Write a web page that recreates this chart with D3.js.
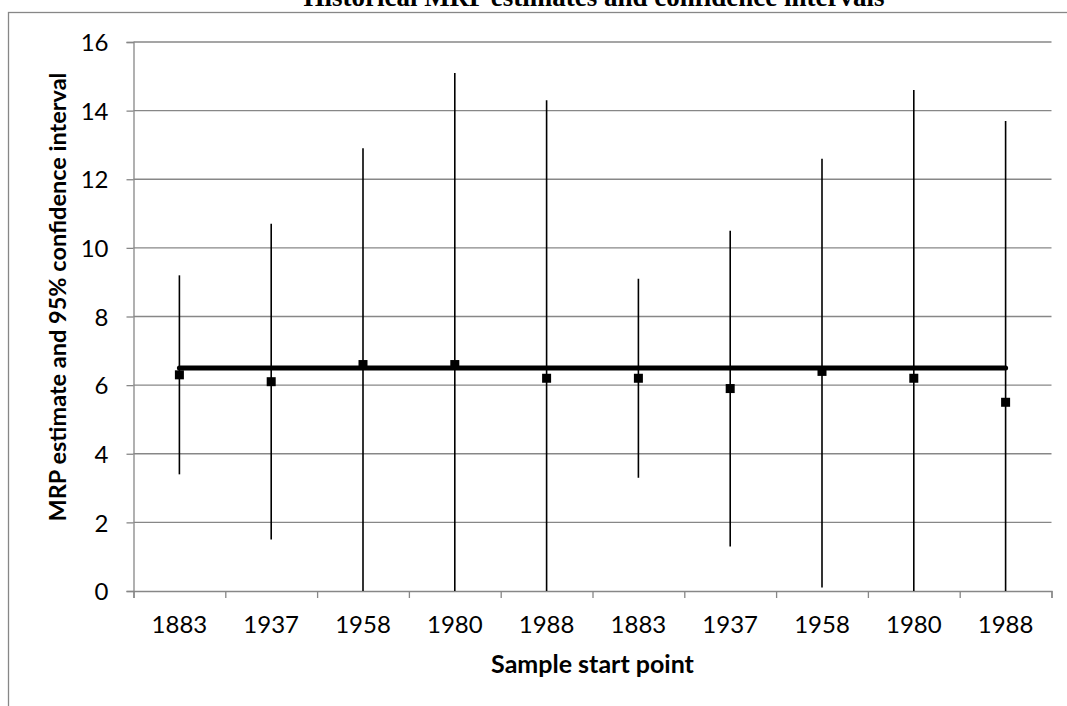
<!DOCTYPE html>
<html>
<head>
<meta charset="utf-8">
<script src="https://cdn.jsdelivr.net/npm/d3@7"></script>
<style>
  body { margin: 0; background: #fff; }
  svg { display: block; }
</style>
</head>
<body>
<script>
'use strict';
(function() {

  // sample start points (labels repeat, so bars are keyed by index)
  const startPoints = ["1883", "1937", "1958", "1980", "1988", "1883", "1937", "1958", "1980", "1988"];
  // MRP point estimates
  const estimates = [6.3, 6.1, 6.6, 6.6, 6.2, 6.2, 5.9, 6.4, 6.2, 5.5];
  // 95% confidence interval bounds (lower clipped at axis 0 in the picture)
  const upperBound = [9.2, 10.7, 12.9, 15.1, 14.3, 9.1, 10.5, 12.6, 14.6, 13.7];
  const lowerBound = [3.4, 1.5, 0, 0, 0, 3.3, 1.3, 0.1, 0, 0];
  // long run average line
  const longRunMRP = 6.5;
  const yTicks = [0, 2, 4, 6, 8, 10, 12, 14, 16];

  const width = 1067, height = 706;
  const plot = { left: 133.5, right: 1051.5, top: 42, bottom: 591 };
  const gridColor = "#878787";
  const sans = 'Lato, "Open Sans", sans-serif';

  const svg = d3.select('body')
    .append('svg')
    .attr('width', width)
    .attr('height', height);

  // chart frame (only top and left edges are inside the picture)
  svg.append('rect')
    .attr('x', 8.5)
    .attr('y', 12.5)
    .attr('width', 1100)
    .attr('height', 800)
    .attr('fill', 'none')
    .attr('stroke', gridColor)
    .attr('stroke-width', 1.3);

  // title, clipped by the top of the picture as in the original
  svg.append('text')
    .attr('x', 594)
    .attr('y', 5.5)
    .attr('text-anchor', 'middle')
    .style('font-family', '"Liberation Serif", "Times New Roman", serif')
    .style('font-weight', 'bold')
    .style('font-size', '27px')
    .text("Historical MRP estimates and confidence intervals");

  const idx = d3.range(startPoints.length);

  const xBand = d3.scaleBand()
    .domain(idx)
    .range([plot.left, plot.right]);

  const xEdge = d3.scaleLinear()
    .domain([0, startPoints.length])
    .range([plot.left, plot.right]);

  const yScale = d3.scaleLinear()
    .domain([0, 16])
    .range([plot.bottom, plot.top]);

  const cx = (i) => xBand(i) + xBand.bandwidth() / 2;

  // horizontal gridlines
  svg.append('g')
    .selectAll('line')
    .data(yTicks.filter((d) => d > 0))
    .enter()
    .append('line')
      .attr('x1', plot.left)
      .attr('x2', plot.right)
      .attr('y1', (d) => yScale(d))
      .attr('y2', (d) => yScale(d))
      .attr('stroke', gridColor)
      .attr('stroke-width', 1.3);

  // y axis
  const yAxis = svg.append('g')
    .attr('transform', `translate(${plot.left}, 0)`)
    .call(d3.axisLeft(yScale).tickValues(yTicks).tickSize(7).tickPadding(18));
  yAxis.select('.domain').attr('stroke', gridColor).attr('stroke-width', 1.3);
  yAxis.selectAll('.tick line').attr('stroke', gridColor).attr('stroke-width', 1.3);
  yAxis.selectAll('.tick text')
    .attr('dy', '0.36em')
    .style('font-family', sans)
    .style('font-size', '24px')
    .attr('fill', '#000');

  // x axis: tick marks on category boundaries
  const xAxis = svg.append('g')
    .attr('transform', `translate(0, ${plot.bottom})`)
    .call(d3.axisBottom(xEdge).tickValues(d3.range(startPoints.length + 1)).tickSize(7).tickFormat(''));
  xAxis.select('.domain').attr('stroke', gridColor).attr('stroke-width', 1.3);
  xAxis.selectAll('.tick line').attr('stroke', gridColor).attr('stroke-width', 1.3);

  // x axis labels at category centres
  const xLabels = svg.append('g')
    .attr('transform', `translate(0, ${plot.bottom})`)
    .call(d3.axisBottom(xBand).tickSize(0).tickPadding(25).tickFormat((i) => startPoints[i]));
  xLabels.select('.domain').remove();
  xLabels.selectAll('.tick text')
    .style('font-family', sans)
    .style('font-size', '24px')
    .attr('fill', '#000');

  // error bars
  svg.append('g')
    .selectAll('line')
    .data(idx)
    .enter()
    .append('line')
      .attr('x1', cx)
      .attr('x2', cx)
      .attr('y1', (i) => yScale(Math.max(0, lowerBound[i])))
      .attr('y2', (i) => yScale(upperBound[i]))
      .attr('stroke', '#000')
      .attr('stroke-width', 1.6);

  // point estimates
  const m = 9;
  svg.append('g')
    .selectAll('rect')
    .data(idx)
    .enter()
    .append('rect')
      .attr('x', (i) => cx(i) - m / 2)
      .attr('y', (i) => yScale(estimates[i]) - m / 2)
      .attr('width', m)
      .attr('height', m)
      .attr('fill', '#000');

  // long run average line
  const line = d3.line()
    .x((i) => cx(i))
    .y(() => yScale(longRunMRP));
  svg.append('path')
    .datum(idx)
    .attr('d', line)
    .attr('fill', 'none')
    .attr('stroke', '#000')
    .attr('stroke-width', 5)
    .attr('stroke-linecap', 'round');

  // axis titles
  svg.append('text')
    .attr('x', (plot.left + plot.right) / 2)
    .attr('y', 673)
    .attr('text-anchor', 'middle')
    .style('font-family', sans)
    .style('font-weight', 'bold')
    .style('font-size', '25px')
    .text('Sample start point');

  svg.append('text')
    .attr('transform', 'translate(66, 297)rotate(-90)')
    .attr('text-anchor', 'middle')
    .style('font-family', sans)
    .style('font-weight', 'bold')
    .style('font-size', '23.5px')
    .text('MRP estimate and 95% confidence interval');

})();
</script>
</body>
</html>
